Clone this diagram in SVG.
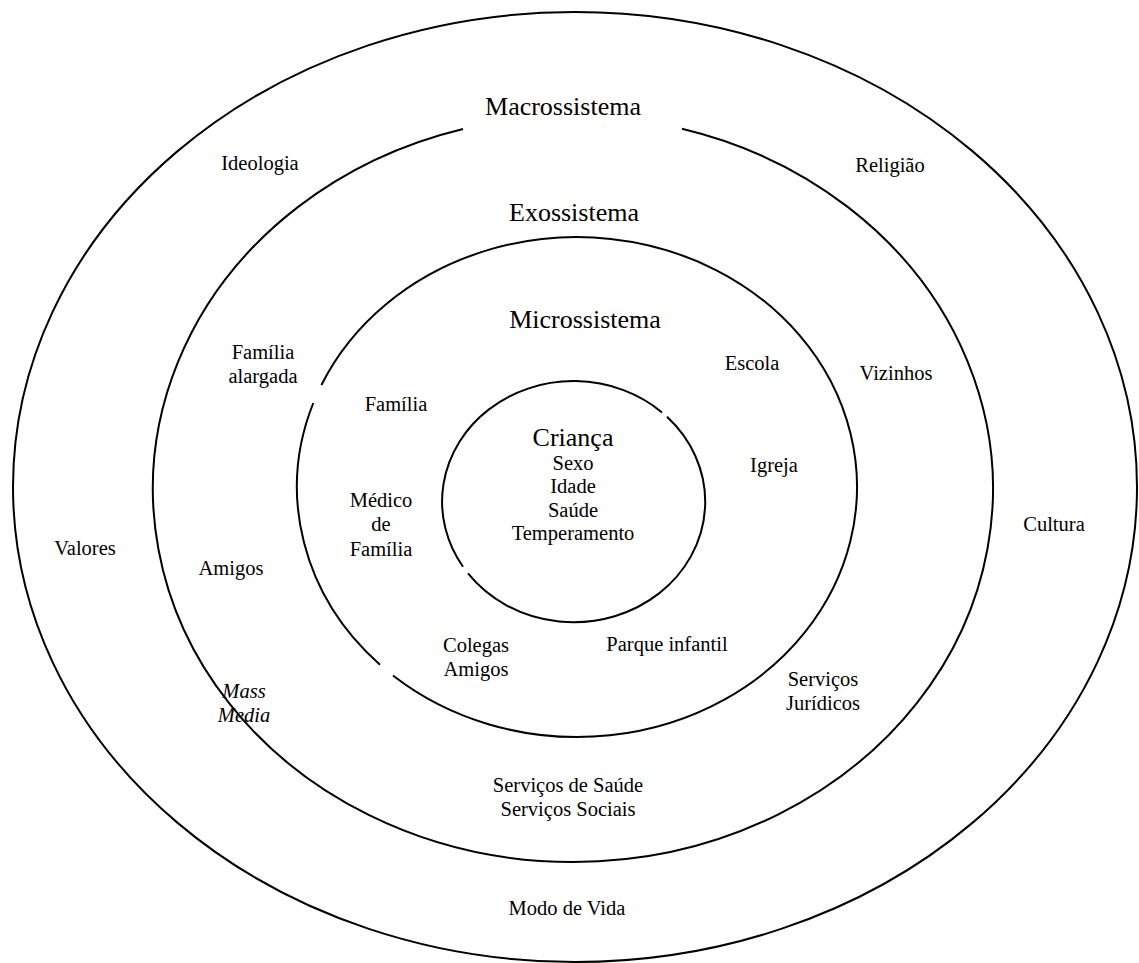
<svg xmlns="http://www.w3.org/2000/svg" width="1139" height="963" viewBox="0 0 1139 963">
<style>
.ring{fill:none;stroke:#000;stroke-width:2}
text{font-family:"Liberation Serif","Times New Roman",serif;fill:#000;text-anchor:middle}
.t{font-size:26px}
.l{font-size:20.5px}
.i{font-style:italic}
</style>
<rect x="0" y="0" width="1139" height="963" fill="#fff"/>
<g id="rings">
<ellipse id="macro-ring" class="ring" cx="575" cy="487" rx="562" ry="475"/>
<path id="exo-ring" class="ring" d="M682,128.8 A420,373 0 1 1 463,129"/>
<path id="micro-ring" class="ring" d="M321.4,385 A280,250 0 1 1 393,675.5 M380,664.7 A280,250 0 0 1 313.3,403"/>
<path id="child-ring" class="ring" d="M667,416.8 A131.5,120.5 0 1 1 468,573.4 M463,566.8 A131.5,120.5 0 0 1 662,412.4"/>
</g>
<g id="macro">
<text class="t" x="563" y="115">Macrossistema</text>
<text class="l" x="260" y="170">Ideologia</text>
<text class="l" x="890" y="172">Religião</text>
<text class="l" x="85" y="555">Valores</text>
<text class="l" x="1054" y="531">Cultura</text>
<text class="l" x="567" y="915">Modo de Vida</text>
</g>
<g id="exo">
<text class="t" x="574" y="221">Exossistema</text>
<text class="l" x="263" y="359">Família</text>
<text class="l" x="263" y="383">alargada</text>
<text class="l" x="896" y="380">Vizinhos</text>
<text class="l" x="231" y="575">Amigos</text>
<text class="l i" x="244" y="698">Mass</text>
<text class="l i" x="244" y="722">Media</text>
<text class="l" x="823" y="686">Serviços</text>
<text class="l" x="823" y="710">Jurídicos</text>
<text class="l" x="568" y="792">Serviços de Saúde</text>
<text class="l" x="568" y="816">Serviços Sociais</text>
</g>
<g id="micro">
<text class="t" x="585" y="328">Microssistema</text>
<text class="l" x="396" y="411">Família</text>
<text class="l" x="752" y="370">Escola</text>
<text class="l" x="381" y="507">Médico</text>
<text class="l" x="381" y="531">de</text>
<text class="l" x="381" y="556">Família</text>
<text class="l" x="774" y="472">Igreja</text>
<text class="l" x="476" y="652">Colegas</text>
<text class="l" x="476" y="676">Amigos</text>
<text class="l" x="667" y="651">Parque infantil</text>
</g>
<g id="child">
<text class="t" x="573" y="446">Criança</text>
<text class="l" x="573" y="470">Sexo</text>
<text class="l" x="573" y="493">Idade</text>
<text class="l" x="573" y="517">Saúde</text>
<text class="l" x="573" y="540">Temperamento</text>
</g>
</svg>
